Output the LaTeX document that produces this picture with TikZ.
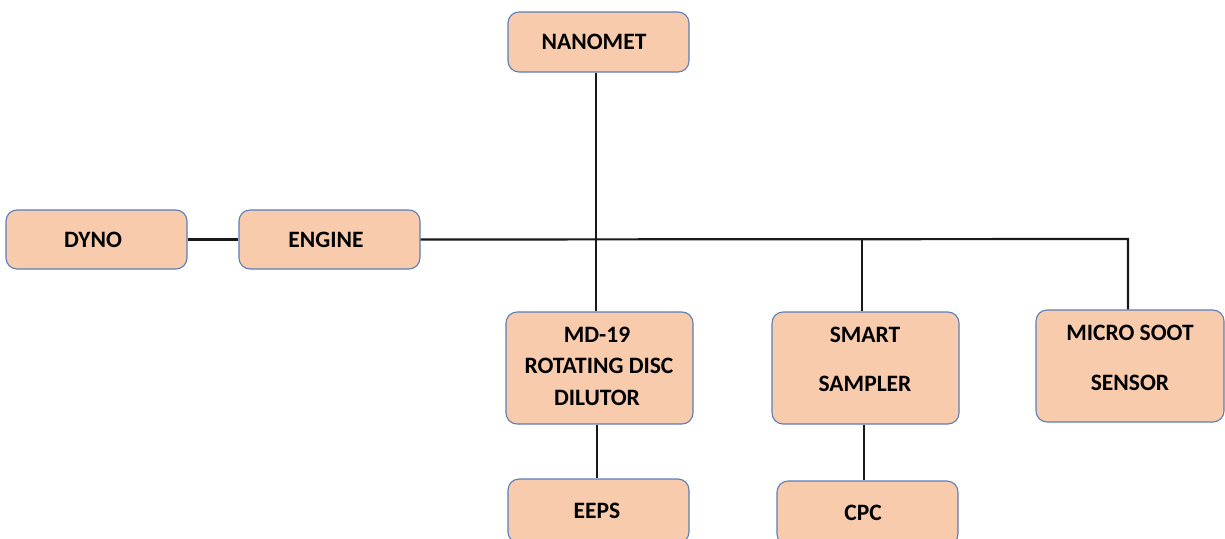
\documentclass[tikz,border=0pt]{standalone}
\usepackage{fontspec}
\setmainfont{Carlito}
\begin{document}
\begin{tikzpicture}[x=1pt,y=-1pt,
  boxst/.style={draw=boxblue, line width=1.1pt, fill=boxfill, rounded corners=11pt, inner sep=0pt},
  lbl/.style={font=\fontsize{23.5}{26}\selectfont\bfseries, align=center, inner sep=0pt},
  conn/.style={line width=2.2pt, draw=black!90}]
\definecolor{boxblue}{HTML}{5B7DB8}
\definecolor{boxfill}{HTML}{F7CBAC}
\useasboundingbox (0,0) rectangle (1225,538);
% boxes
\node[boxst, minimum width=181pt, minimum height=60pt] (nano) at (598.5,42) {};
\node[boxst, minimum width=181pt, minimum height=59pt] (dyno) at (96.5,239.5) {};
\node[boxst, minimum width=181pt, minimum height=59pt] (engine) at (329.5,239.5) {};
\node[boxst, minimum width=187pt, minimum height=112pt] (md) at (599.5,368) {};
\node[boxst, minimum width=187pt, minimum height=112pt] (smart) at (865.5,368) {};
\node[boxst, minimum width=188pt, minimum height=112pt] (micro) at (1130,366) {};
\node[boxst, minimum width=181pt, minimum height=64pt] (eeps) at (598.5,511) {};
\node[boxst, minimum width=181pt, minimum height=64pt] (cpc) at (867.5,513) {};
% labels
\node[lbl] (tnano) at (594,42) {NANOMET};
\node[lbl] (tdyno) at (93,240) {DYNO};
\node[lbl] (tengine) at (326,240) {ENGINE};
\node[lbl] (tmd1) at (597,335) {MD-19};
\node[lbl] (tmd2) at (599,366) {ROTATING DISC};
\node[lbl] (tmd3) at (597,398) {DILUTOR};
\node[lbl] (tsm1) at (865,335) {SMART};
\node[lbl] (tsm2) at (865,384) {SAMPLER};
\node[lbl] (tmi1) at (1130,333) {MICRO SOOT};
\node[lbl] (tmi2) at (1130,383) {SENSOR};
\node[lbl] (teeps) at (597,511) {EEPS};
\node[lbl] (tcpc) at (863,513) {CPC};
% connectors
\coordinate (jmd) at (596,239);
\coordinate (jsm) at (862,239);
\coordinate (jmi) at (1128,239);
\draw[conn] (dyno.east) -- (engine.east -| engine.west);
\draw[conn] (engine.east) -- (jmi) -- (jmi |- micro.north);
\draw[conn] (nano.south -| jmd) -- (jmd |- md.north);
\draw[conn] (jsm) -- (jsm |- smart.north);
\draw[conn] (md.south -| 597,0) -- (eeps.north -| 597,0);
\draw[conn] (smart.south -| 864,0) -- (cpc.north -| 864,0);
\end{tikzpicture}
\end{document}
